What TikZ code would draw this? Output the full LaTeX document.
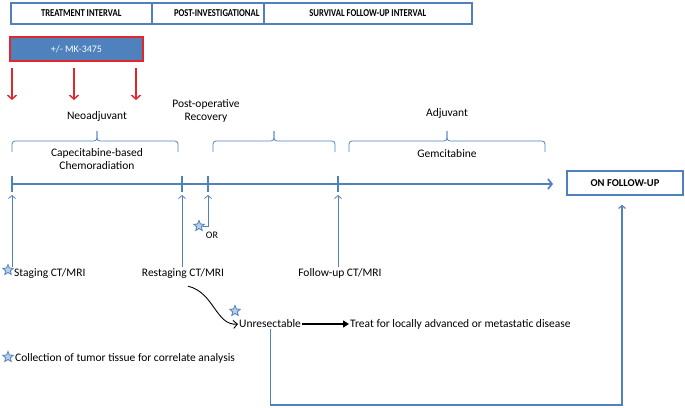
\documentclass[tikz,border=0pt]{standalone}
\usepackage{fontspec}
\setmainfont{Carlito}
\newfontfamily\hdrfont[FakeStretch = 0.82]{Carlito}
\usetikzlibrary{arrows.meta}
\usetikzlibrary{shapes.geometric}
\usetikzlibrary{positioning}
\definecolor{tlblue}{HTML}{4F81BD}
\definecolor{mkred}{HTML}{E3262B}
\definecolor{starfill}{HTML}{B9CDE5}
\tikzset{hdr/.style = {draw = tlblue, line width = 1.5pt, minimum height = 21pt,
                       inner sep = 0, anchor = west,
                       font = \hdrfont\bfseries\fontsize{10.5}{12}\selectfont}}
\tikzset{lbl/.style = {font = \fontsize{11.5}{13.5}\selectfont, inner sep = 1pt, align = center}}
\tikzset{tick/.style = {tlblue, line width = 2.5pt}}
\tikzset{up/.style = {tlblue, line width = 0.8pt, -{Straight Barb[length = 3pt, width = 7pt]}}}
\tikzset{dn/.style = {mkred, line width = 1.4pt, -{Straight Barb[length = 4pt, width = 9pt]}}}
\tikzset{tstar/.style = {star, star points = 5, star point ratio = 2.2, draw = tlblue,
                         fill = starfill, minimum size = 11pt, inner sep = 0, line width = 0.8pt}}
\newcommand{\tlbrace}[3]{%
  \draw [tlblue, line width = 0.8pt, rounded corners = 3pt] (#1, 152) -- (#1, 141) -- (#3, 141) -- (#3, 131);
  \draw [tlblue, line width = 0.8pt, rounded corners = 3pt] (#2, 152) -- (#2, 141) -- (#3, 141) -- (#3, 131);}

\begin{document}
\begin{tikzpicture}[x = 1pt, y = -1pt]
      \useasboundingbox (0, 0) rectangle (685, 407);

      % intervals
      \node [hdr, minimum width = 141] (treatint) at (10, 13.5) {TREATMENT INTERVAL};
      \node [hdr, minimum width = 112] (postinv) at (151, 13.5) {\hspace{18pt}POST-INVESTIGATIONAL};
      \node [hdr, minimum width = 208] (survint) at (263, 13.5) {SURVIVAL FOLLOW-UP INTERVAL};

      \node [draw = mkred, line width = 2pt, fill = tlblue, text = white, minimum width = 133,
             minimum height = 24, font = \fontsize{10}{11}\selectfont] (mk) at (76.5, 49) {+/- MK-3475};
      \foreach \x [count = \i] in {12, 74, 136} {
        \coordinate (rtop\i) at (\x, 68);
        \coordinate (rbot\i) at (\x, 100);
        \draw [dn] (rtop\i) -- (rbot\i);
      }

      % phases
      \node [lbl] (neo) at (97, 116) {Neoadjuvant};
      \node [lbl] (chemo) at (97, 159) {Capecitabine-based\\Chemoradiation};
      \node [lbl] (recov) at (206, 111) {Post-operative\\Recovery};
      \node [lbl] (adj) at (447, 113) {Adjuvant};
      \node [lbl] (gem) at (447, 154) {Gemcitabine};
      \tlbrace{12}{178}{97}
      \tlbrace{213}{335}{274}
      \tlbrace{349}{545}{447}

      % timeline
      \coordinate (t0) at (12, 184);
      \coordinate (t1) at (182, 184);
      \coordinate (t2) at (208, 184);
      \coordinate (t3) at (338, 184);
      \coordinate (tend) at (553, 184);
      \draw [tlblue, line width = 1.7pt, -{Straight Barb[length = 4pt, width = 10pt]}] (t0) -- (tend);
      \foreach \t in {t0, t1, t2, t3}
        \draw [tick] ([yshift = -8pt]\t) -- ([yshift = 8pt]\t);
      \node [draw = tlblue, line width = 1.5pt, minimum width = 116, minimum height = 24,
             font = \bfseries\fontsize{10.5}{12}\selectfont] (onfu) at (625, 183) {ON FOLLOW-UP};

      % assessments
      \node [tstar] (s1) at (8, 270) {};
      \node [lbl, anchor = west] (stag) at (13, 273) {Staging CT/MRI};
      \node [lbl] (restag) at (183, 273) {Restaging CT/MRI};
      \node [lbl] (fuct) at (340, 273) {Follow-up CT/MRI};
      \node [tstar] (orstar) at (199, 226) {};
      \node [lbl, font = \fontsize{10}{11}\selectfont] (or) at (212, 235) {OR};
      \draw [up] (t0 |- stag.north) -- ([yshift = -11pt]t0);
      \draw [up] (t1 |- restag.north) -- ([yshift = -11pt]t1);
      \draw [up] (orstar.east) -| ([yshift = -11pt]t2);
      \draw [up] (t3 |- fuct.north) -- ([yshift = -11pt]t3);

      % unresectable branch
      \node [tstar] (ustar) at (235, 311) {};
      \node [lbl, anchor = west] (unres) at (238, 324) {Unresectable};
      \node [lbl, anchor = west] (treatla) at (349, 324) {Treat for locally advanced or metastatic disease};
      \draw [line width = 0.9pt, -{Straight Barb[length = 4pt, width = 8pt]}]
        ([shift = {(5, 7)}]restag.south) .. controls +(26, 6) and +(-22, 2) .. (unres.west);
      \draw [line width = 1.3pt, -{Triangle[length = 6pt, width = 7pt]}] (unres.east) -- (treatla.west);
      \coordinate (loop) at (0, 405);
      \draw [up, line width = 1.1pt] (unres.south) -- (unres.south |- loop) -| ([xshift = -3pt, yshift = -9pt]onfu.south);

      % legend
      \node [tstar] (lstar) at (8, 357) {};
      \node [lbl, anchor = west] (legend) at (14, 358) {Collection of tumor tissue for correlate analysis};
    \end{tikzpicture}
\end{document}
